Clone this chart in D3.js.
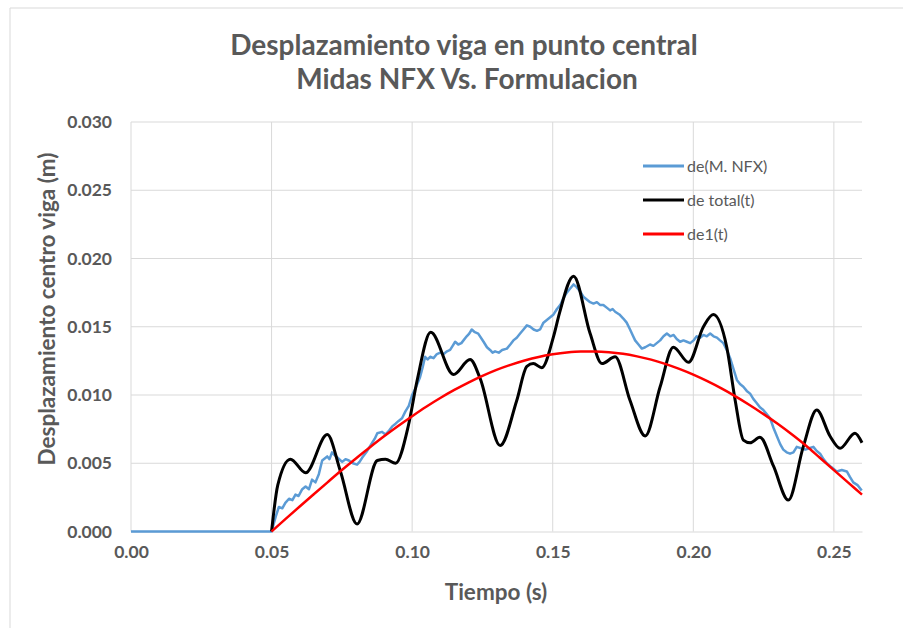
<!DOCTYPE html>
<html><head><meta charset="utf-8">
<script src="https://cdn.jsdelivr.net/npm/d3@7"></script>
<style>body{margin:0;background:#fff}svg{display:block}</style>
</head><body>
<script>
const yTicks = [0, 0.005, 0.010, 0.015, 0.020, 0.025, 0.030];
const xTicks = [0, 0.05, 0.10, 0.15, 0.20, 0.25];
const seriesNames = ["de(M. NFX)", "de total(t)", "de1(t)"];

const blueTime = [0,0.05,0.0515,0.0526,0.0538,0.0549,0.0562,0.0574,0.0585,0.0596,0.0609,0.0621,0.0633,0.0644,0.0656,0.0668,0.068,0.0698,0.0706,0.0715,0.0724,0.0735,0.0751,0.0763,0.0775,0.0789,0.0804,0.0813,0.0822,0.084,0.0858,0.0867,0.0876,0.0893,0.0905,0.0918,0.0929,0.0941,0.0952,0.0964,0.0976,0.0988,0.1,0.1012,0.1028,0.1037,0.1046,0.1055,0.1064,0.1076,0.1088,0.11,0.1112,0.1124,0.1135,0.1144,0.1153,0.1164,0.1175,0.1194,0.1203,0.1212,0.1223,0.1235,0.1254,0.1266,0.1277,0.1286,0.1295,0.1308,0.132,0.1337,0.1349,0.136,0.1372,0.1384,0.1396,0.1408,0.142,0.1432,0.1444,0.1455,0.1467,0.1479,0.1491,0.1503,0.1515,0.1527,0.1538,0.155,0.1562,0.1574,0.1585,0.1597,0.1609,0.1621,0.1633,0.1645,0.1657,0.1668,0.168,0.1692,0.1704,0.1713,0.1722,0.1737,0.1751,0.1763,0.1775,0.1784,0.1793,0.1805,0.1817,0.1829,0.1846,0.1858,0.187,0.1882,0.1894,0.1906,0.1918,0.193,0.1941,0.1953,0.1965,0.1977,0.1989,0.2001,0.2012,0.2024,0.2036,0.2048,0.206,0.2072,0.2084,0.2095,0.2107,0.2119,0.2131,0.2143,0.2155,0.2166,0.2178,0.219,0.2202,0.2214,0.2226,0.2237,0.2249,0.2261,0.2273,0.2285,0.2297,0.2309,0.232,0.2332,0.2344,0.2356,0.2368,0.2383,0.2398,0.2412,0.2427,0.2439,0.2451,0.2463,0.2475,0.2492,0.251,0.2528,0.2546,0.2557,0.2569,0.2584,0.2599];
const blueValue = [0,0,0.0011,0.0018,0.0017,0.0021,0.0024,0.0023,0.0027,0.0026,0.0031,0.0033,0.0031,0.0038,0.0036,0.0042,0.0052,0.0055,0.0053,0.0058,0.0056,0.0054,0.0051,0.0053,0.0052,0.005,0.0049,0.0051,0.0054,0.0059,0.0065,0.0068,0.0072,0.0073,0.0071,0.0074,0.0077,0.0079,0.0081,0.0083,0.0088,0.0092,0.01,0.0105,0.0113,0.012,0.0128,0.0126,0.0128,0.0127,0.013,0.0131,0.013,0.0132,0.0133,0.0136,0.0139,0.0137,0.0138,0.0143,0.0145,0.0148,0.0146,0.0145,0.0139,0.0135,0.0133,0.0131,0.0132,0.0131,0.0133,0.0134,0.0137,0.014,0.0142,0.0145,0.0148,0.0151,0.015,0.0148,0.0147,0.0148,0.0153,0.0155,0.0157,0.0159,0.0163,0.0166,0.0171,0.0175,0.0178,0.0181,0.0179,0.0176,0.0172,0.017,0.0168,0.0167,0.0168,0.0166,0.0166,0.0164,0.0162,0.0163,0.0161,0.0159,0.0156,0.0153,0.0148,0.0144,0.014,0.0137,0.0134,0.0135,0.0137,0.0136,0.0138,0.014,0.0143,0.0145,0.0143,0.0144,0.0141,0.0139,0.014,0.0139,0.0138,0.014,0.0143,0.0142,0.0144,0.0143,0.0145,0.0143,0.0142,0.014,0.0138,0.0133,0.0127,0.0119,0.0111,0.0108,0.0106,0.0103,0.0101,0.0097,0.0094,0.0091,0.0089,0.0086,0.0083,0.0076,0.007,0.0064,0.006,0.0058,0.0057,0.0058,0.0062,0.0061,0.006,0.0061,0.0062,0.0059,0.0057,0.0053,0.005,0.0047,0.0044,0.0045,0.0044,0.004,0.0036,0.0034,0.003];

const blackTime = [0.05,0.0522,0.0567,0.0621,0.0698,0.0745,0.0804,0.0876,0.0905,0.0941,0.0987,0.1018,0.1066,0.1147,0.1206,0.1242,0.1313,0.1372,0.1408,0.1431,0.1461,0.1503,0.1524,0.1574,0.1633,0.1675,0.1722,0.1775,0.1829,0.1882,0.1929,0.1983,0.2036,0.2071,0.2119,0.2149,0.2178,0.2202,0.2237,0.2285,0.2338,0.2391,0.2439,0.2486,0.2522,0.2575,0.26];
const blackValue = [0,0.0034,0.0053,0.0043,0.0071,0.0044,0.00055,0.0052,0.0053,0.005,0.0078,0.0111,0.0146,0.0115,0.0126,0.0112,0.0063,0.0096,0.0121,0.0123,0.012,0.0143,0.016,0.0187,0.0145,0.0123,0.0128,0.0096,0.007,0.0106,0.0135,0.0124,0.015,0.0159,0.0135,0.0096,0.0067,0.0065,0.0069,0.0048,0.0023,0.0062,0.0089,0.007,0.0061,0.0072,0.0065];

const redTime = [0.05,0.055,0.06,0.065,0.07,0.075,0.08,0.085,0.09,0.095,0.1,0.105,0.11,0.115,0.12,0.125,0.13,0.135,0.14,0.145,0.15,0.155,0.16,0.165,0.17,0.175,0.18,0.185,0.19,0.195,0.2,0.205,0.21,0.215,0.22,0.225,0.23,0.235,0.24,0.245,0.25,0.255,0.26];
const redValue = [0,0.00092,0.00183,0.00273,0.00362,0.0045,0.00535,0.00617,0.00697,0.00773,0.00845,0.00914,0.00978,0.01037,0.01091,0.0114,0.01184,0.01221,0.01253,0.01279,0.01298,0.01312,0.01319,0.01319,0.01314,0.01302,0.01283,0.01259,0.01228,0.01191,0.01149,0.01101,0.01048,0.0099,0.00927,0.0086,0.00789,0.00712,0.0063,0.0054,0.0045,0.0036,0.0027];

const W = 903, H = 628;
const svg = d3.select("body").append("svg").attr("width", W).attr("height", H);
const FONT = "Lato, 'Open Sans', sans-serif";
const gray = "#595959";

// chart area border (top & left visible)
svg.append("line").attr("x1",10).attr("x2",W).attr("y1",8).attr("y2",8).attr("stroke","#d9d9d9");
svg.append("line").attr("x1",10).attr("x2",10).attr("y1",8).attr("y2",H).attr("stroke","#d9d9d9");

const x = d3.scaleLinear().domain([0, 0.26]).range([131, 862]);
const y = d3.scaleLinear().domain([0, 0.03]).range([531.5, 122]);

// gridlines
svg.append("g").selectAll("line").data(yTicks.slice(1)).join("line")
  .attr("x1", x(0)).attr("x2", x(0.26)).attr("y1", d=>y(d)).attr("y2", d=>y(d))
  .attr("stroke","#d9d9d9").attr("stroke-width",1);
svg.append("g").selectAll("line").data(xTicks).join("line")
  .attr("x1", d=>x(d)).attr("x2", d=>x(d)).attr("y1", y(0)).attr("y2", y(0.03))
  .attr("stroke","#d9d9d9").attr("stroke-width",1);

// axes
const xAxis = d3.axisBottom(x).tickValues(xTicks).tickFormat(d3.format(".2f")).tickSize(0).tickPadding(14);
const gx = svg.append("g").attr("transform",`translate(0,${y(0)})`).call(xAxis);
gx.select(".domain").attr("stroke","#d9d9d9");
gx.selectAll("text").attr("font-family",FONT).attr("font-size",17.5).attr("font-weight",700).attr("fill",gray);

const yAxis = d3.axisLeft(y).tickValues(yTicks).tickFormat(d3.format(".3f")).tickSize(0).tickPadding(19);
const gy = svg.append("g").attr("transform",`translate(${x(0)},0)`).call(yAxis);
gy.select(".domain").remove();
gy.selectAll("text").attr("font-family",FONT).attr("font-size",17.5).attr("font-weight",700).attr("fill",gray);

// series
const mk = (ts, vs) => ts.map((t,i)=>[t, vs[i]]);
const blue = mk(blueTime, blueValue), black = mk(blackTime, blackValue), red = mk(redTime, redValue);
svg.append("path").datum(blue).attr("fill","none").attr("stroke","#5b9bd5").attr("stroke-width",2.5)
  .attr("stroke-linejoin","round")
  .attr("d", d3.line().x(d=>x(d[0])).y(d=>y(d[1])));
svg.append("path").datum(black).attr("fill","none").attr("stroke","#000").attr("stroke-width",3)
  .attr("d", d3.line().curve(d3.curveMonotoneX).x(d=>x(d[0])).y(d=>y(d[1])));
svg.append("path").datum(red).attr("fill","none").attr("stroke","#ff0000").attr("stroke-width",2.5)
  .attr("d", d3.line().curve(d3.curveMonotoneX).x(d=>x(d[0])).y(d=>y(d[1])));

// legend
const colors = ["#5b9bd5","#000","#ff0000"];
const lg = svg.append("g");
seriesNames.forEach((n,i)=>{
  const yy = 166 + i*34;
  lg.append("line").attr("x1",643).attr("x2",684).attr("y1",yy).attr("y2",yy).attr("stroke",colors[i]).attr("stroke-width",3);
  lg.append("text").attr("x",687).attr("y",yy).attr("dy","0.35em").attr("font-family",FONT).attr("font-size",16).attr("fill",gray).text(n);
});

// titles
svg.append("text").attr("x",464).attr("y",45).attr("dy","0.35em").attr("text-anchor","middle")
  .attr("font-family",FONT).attr("font-weight",700).attr("font-size",28).attr("fill",gray)
  .text("Desplazamiento viga en punto central");
svg.append("text").attr("x",467).attr("y",79).attr("dy","0.35em").attr("text-anchor","middle")
  .attr("font-family",FONT).attr("font-weight",700).attr("font-size",28).attr("fill",gray)
  .text("Midas NFX Vs. Formulacion");
svg.append("text").attr("x",496).attr("y",592).attr("dy","0.35em").attr("text-anchor","middle")
  .attr("font-family",FONT).attr("font-weight",700).attr("font-size",22.5).attr("fill",gray)
  .text("Tiempo (s)");
svg.append("text").attr("transform","translate(47,309) rotate(-90)").attr("dy","0.35em").attr("text-anchor","middle")
  .attr("font-family",FONT).attr("font-weight",700).attr("font-size",22.5).attr("fill",gray)
  .text("Desplazamiento centro viga (m)");
</script>
</body></html>
